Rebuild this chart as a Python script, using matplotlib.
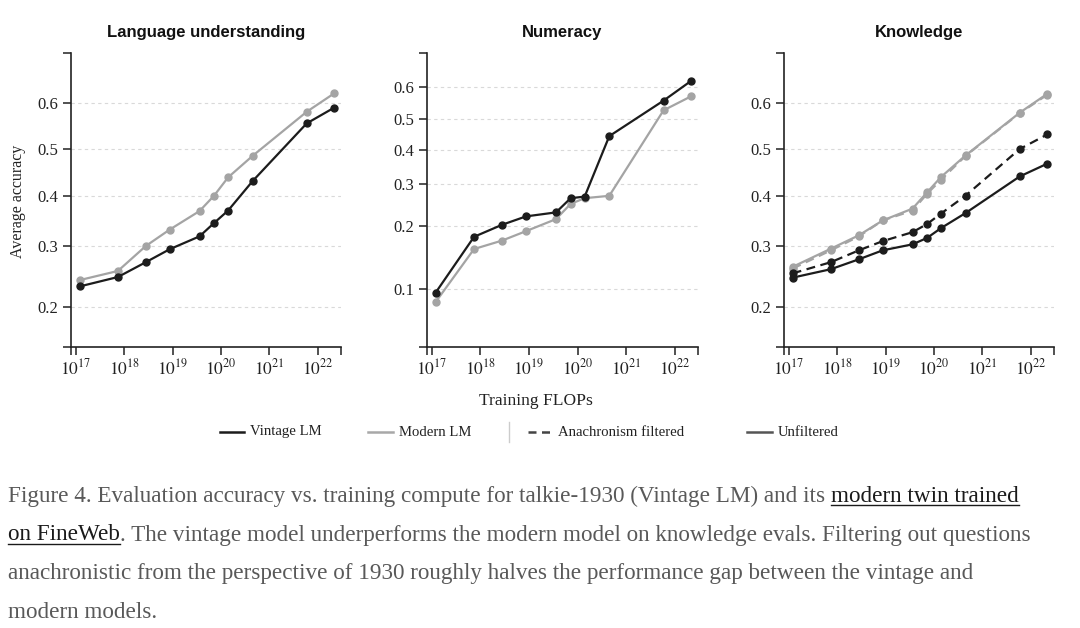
import matplotlib
matplotlib.use('Agg')
import matplotlib.pyplot as plt
import matplotlib.ticker as mticker
from matplotlib.lines import Line2D

plt.rcParams['mathtext.fontset'] = 'stix'

# ---------------- data ----------------
flops = [1.2e17, 7.4e17, 2.8e18, 8.7e18, 3.6e19, 7.2e19, 1.4e20, 4.5e20, 5.9e21, 2.2e22]

lang_vintage = [0.231, 0.246, 0.271, 0.294, 0.318, 0.344, 0.369, 0.431, 0.557, 0.591]
lang_modern = [0.241, 0.256, 0.300, 0.331, 0.368, 0.400, 0.439, 0.486, 0.582, 0.621]

num_vintage = [0.096, 0.179, 0.203, 0.221, 0.230, 0.264, 0.268, 0.444, 0.558, 0.620]
num_modern = [0.086, 0.157, 0.172, 0.190, 0.215, 0.250, 0.264, 0.270, 0.527, 0.572]

know_vintage_unf = [0.245, 0.259, 0.276, 0.292, 0.303, 0.315, 0.334, 0.364, 0.441, 0.469]
know_vintage_filt = [0.252, 0.271, 0.292, 0.309, 0.326, 0.342, 0.363, 0.400, 0.501, 0.533]
know_modern_unf = [0.263, 0.295, 0.320, 0.349, 0.373, 0.407, 0.440, 0.487, 0.580, 0.620]
know_modern_filt = [0.260, 0.292, 0.318, 0.349, 0.369, 0.404, 0.434, 0.486, 0.579, 0.618]

titles = ["Language understanding", "Numeracy", "Knowledge"]
yticks_lang = [0.2, 0.3, 0.4, 0.5, 0.6]
yticks_num = [0.1, 0.2, 0.3, 0.4, 0.5, 0.6]
xtick_exps = [17, 18, 19, 20, 21, 22]
legend_labels = ["Vintage LM", "Modern LM", "Anachronism filtered", "Unfiltered"]

caption_lines = [
    [("Figure 4. Evaluation accuracy vs. training compute for talkie-1930 (Vintage LM) and its", False),
     ("modern twin trained", True)],
    [("on FineWeb", True),
     (". The vintage model underperforms the modern model on knowledge evals. Filtering out questions", False)],
    [("anachronistic from the perspective of 1930 roughly halves the performance gap between the vintage and", False)],
    [("modern models.", False)],
]

# ---------------- style ----------------
W, H = 1080, 628
BLACK = '#1c1c1c'
GRAY = '#a4a4a4'
AXC = '#222222'
SERIF = 'Liberation Serif'
SANS = 'Liberation Sans'

fig = plt.figure(figsize=(W / 100, H / 100), dpi=100)

ytop, ybot = 53, 347
boxes = [(71, 341), (427, 698), (784, 1054)]
xlim = (10 ** 16.9, 10 ** 22.48)


def make_ax(x0, x1, ylim, yticks):
    ax = fig.add_axes([x0 / W, (H - ybot) / H, (x1 - x0) / W, (ybot - ytop) / H])
    ax.set_xscale('log')
    ax.set_yscale('logit')
    ax.set_xlim(*xlim)
    ax.set_ylim(*ylim)
    ax.xaxis.set_major_locator(mticker.FixedLocator([10.0 ** e for e in xtick_exps]))
    ax.xaxis.set_major_formatter(mticker.FixedFormatter([r'$10^{%d}$' % e for e in xtick_exps]))
    ax.xaxis.set_minor_locator(mticker.FixedLocator(list(xlim)))
    ax.xaxis.set_minor_formatter(mticker.NullFormatter())
    ax.yaxis.set_major_locator(mticker.FixedLocator(yticks))
    ax.yaxis.set_major_formatter(mticker.FixedFormatter(['%g' % v for v in yticks]))
    ax.yaxis.set_minor_locator(mticker.FixedLocator(list(ylim)))
    ax.yaxis.set_minor_formatter(mticker.NullFormatter())
    for s in ['top', 'right']:
        ax.spines[s].set_visible(False)
    for s in ['left', 'bottom']:
        ax.spines[s].set_color(AXC)
        ax.spines[s].set_linewidth(1.2)
    ax.tick_params(which='both', direction='out', length=6, width=1.1, color=AXC)
    ax.tick_params(axis='x', which='major', pad=2, labelsize=12.5, labelcolor=AXC)
    ax.tick_params(axis='y', which='major', pad=3, labelsize=12, labelcolor=AXC)
    for lab in ax.get_yticklabels():
        lab.set_fontfamily(SERIF)
    ax.grid(True, which='major', axis='y', color='#d9d9d9', linestyle=(0, (3, 3)), linewidth=0.8)
    ax.grid(False, which='minor')
    ax.grid(False, axis='x')
    ax.set_facecolor('none')
    return ax


lw = 1.6
ms = 5

ax1 = make_ax(*boxes[0], (0.15, 0.70), yticks_lang)
ax1.plot(flops, lang_modern, color=GRAY, lw=lw, marker='o', ms=ms, zorder=3)
ax1.plot(flops, lang_vintage, color=BLACK, lw=lw, marker='o', ms=ms, zorder=4)

ax2 = make_ax(*boxes[1], (0.05, 0.70), yticks_num)
ax2.plot(flops, num_modern, color=GRAY, lw=lw, marker='o', ms=ms, zorder=3)
ax2.plot(flops, num_vintage, color=BLACK, lw=lw, marker='o', ms=ms, zorder=4)

ax3 = make_ax(*boxes[2], (0.15, 0.70), yticks_lang)
ax3.plot(flops, know_modern_unf, color=GRAY, lw=lw, marker='o', ms=ms, zorder=3)
ax3.plot(flops, know_modern_filt, color=GRAY, lw=lw, marker='o', ms=ms, ls=(0, (4, 2.5)), zorder=3)
ax3.plot(flops, know_vintage_unf, color=BLACK, lw=lw, marker='o', ms=ms, zorder=4)
ax3.plot(flops, know_vintage_filt, color=BLACK, lw=lw, marker='o', ms=ms, ls=(0, (4, 2.5)), zorder=4)

for (x0, x1), t in zip(boxes, titles):
    fig.text((x0 + x1) / 2 / W, 1 - 32 / H, t, ha='center', va='center',
             fontfamily=SANS, fontweight='bold', fontsize=12, color='#111111')

fig.text(18 / W, 1 - 201 / H, "Average accuracy", rotation=90, ha='center', va='center',
         fontfamily=SERIF, fontsize=11.4, color=AXC)
fig.text(536 / W, 1 - 401 / H, "Training FLOPs", ha='center', va='center',
         fontfamily=SERIF, fontsize=12.6, color=AXC)

# ---------------- legend ----------------
ly = 1 - 432 / H
leg_items = [
    (220, 244, BLACK, '-', legend_labels[0]),
    (368, 393, '#a8a8a8', '-', legend_labels[1]),
    (528, 552, '#444444', (0, (3.2, 2.2)), legend_labels[2]),
    (747, 772, '#555555', '-', legend_labels[3]),
]
for xa, xb, c, ls, lab in leg_items:
    fig.add_artist(Line2D([xa / W, xb / W], [ly, ly], color=c, lw=1.8, ls=ls,
                          transform=fig.transFigure))
    fig.text((xb + 6) / W, ly, lab, ha='left', va='center', fontfamily=SERIF,
             fontsize=10.6, color=AXC)
fig.add_artist(Line2D([509 / W, 509 / W], [1 - 422 / H, 1 - 442 / H], color='#cccccc', lw=1,
                      transform=fig.transFigure))

# ---------------- caption ----------------
fig.canvas.draw()
renderer = fig.canvas.get_renderer()
cap_kw = dict(fontfamily=SERIF, fontsize=16.7)


def width_px(s):
    t = fig.text(0, 0, s, **cap_kw)
    w = t.get_window_extent(renderer).width
    t.remove()
    return w


space_w = width_px("a a") - width_px("aa")
baselines = [502, 540.5, 579, 617.5]
for line, yb in zip(caption_lines, baselines):
    x = 8.0
    for k, (s, link) in enumerate(line):
        if k > 0 and not s.startswith('.'):
            x += space_w
        col = '#1a1a1a' if link else '#595959'
        t = fig.text(x / W, 1 - yb / H, s, ha='left', va='baseline', color=col, **cap_kw)
        bb = t.get_window_extent(renderer)
        if link:
            uy = 1 - (yb + 3) / H
            fig.add_artist(Line2D([bb.x0 / W, bb.x1 / W], [uy, uy], color='#1a1a1a', lw=1.0,
                                  transform=fig.transFigure))
        x = bb.x1

fig.savefig('out.png', dpi=100)
